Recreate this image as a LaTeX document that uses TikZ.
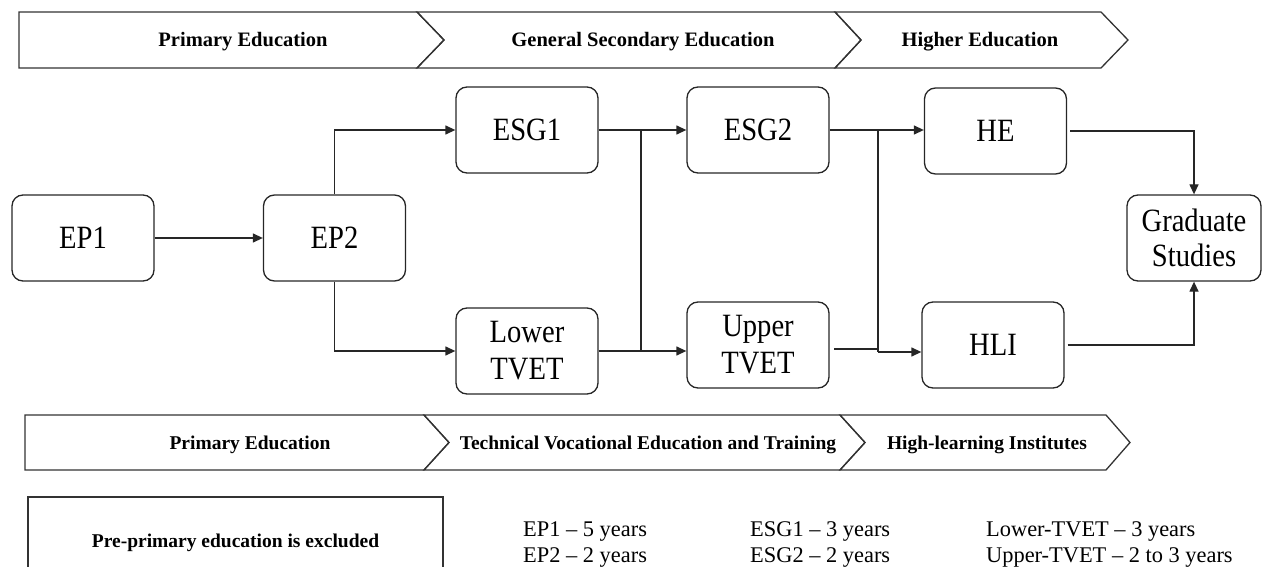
\documentclass[tikz,border=0pt]{standalone}
\usepackage{fontspec}
\setmainfont{Liberation Serif}
\newfontfamily\boxfont{Liberation Serif}[FakeStretch=0.88]
\usetikzlibrary{arrows.meta}
\begin{document}
\begin{tikzpicture}[x=1pt,y=-1pt,
  line/.style={draw=black!85, line width=1.3pt},
  arr/.style={line, -{Triangle[length=10pt,width=9pt]}},
  box/.style={draw=black!85, line width=1.3pt, rounded corners=11pt,
    minimum width=142pt, minimum height=86pt, inner sep=0pt, align=center,
    font=\boxfont\fontsize{32.5}{37}\selectfont},
  band/.style={draw=black!80, line width=1.3pt},
  bandtext/.style={anchor=base, inner sep=0pt, font=\bfseries\fontsize{20.5}{24}\selectfont},
  bandtextb/.style={anchor=base, inner sep=0pt, font=\bfseries\fontsize{19.5}{23}\selectfont},
  yrs/.style={anchor=base west, inner sep=0pt, font=\fontsize{22.4}{26}\selectfont}
]
\useasboundingbox (0,0) rectangle (1262,567);

% top band
\draw[band] (19,12) -- (417,12) -- (444,40) -- (417,68) -- (19,68) -- cycle;
\draw[band] (417,12) -- (835,12) -- (861,40) -- (835,68) -- (417,68) -- (444,40) -- cycle;
\draw[band] (835,12) -- (1101,12) -- (1128,40) -- (1101,68) -- (835,68) -- (861,40) -- cycle;
\node[bandtext] (tA) at (243,47) {Primary Education};
\node[bandtext] (tB) at (643,47) {General Secondary Education};
\node[bandtext] (tC) at (980,47) {Higher Education};

% bottom band
\draw[band] (25,415) -- (424,415) -- (449,442.5) -- (424,470) -- (25,470) -- cycle;
\draw[band] (424,415) -- (840,415) -- (865,442.5) -- (840,470) -- (424,470) -- (449,442.5) -- cycle;
\draw[band] (840,415) -- (1106,415) -- (1130,442.5) -- (1106,470) -- (840,470) -- (865,442.5) -- cycle;
\node[bandtextb] (bA) at (250,449.5) {Primary Education};
\node[bandtextb] (bB) at (648,449.5) {Technical Vocational Education and Training};
\node[bandtextb] (bC) at (987,449.5) {High-learning Institutes};

% nodes
\node[box] (EP1) at (83,238) {EP1};
\node[box] (EP2) at (334.5,238) {EP2};
\node[box] (ESG1) at (527,130) {ESG1};
\node[box] (LT) at (527,351) {Lower\\TVET};
\node[box] (ESG2) at (758,130) {ESG2};
\node[box] (UT) at (758,345) {Upper\\TVET};
\node[box] (HE) at (995.5,131) {HE};
\node[box] (HLI) at (993,345) {HLI};
\node[box, minimum width=134pt, font=\boxfont\fontsize{32.5}{35}\selectfont] (GS) at (1194,238) {Graduate\\Studies};

% connectors
\draw[arr] (EP1) -- (EP2);
\draw[arr] (EP2.north) |- (ESG1.west);
\draw[arr] (EP2.south) |- (LT.west);
\coordinate (j1) at (641,130);
\coordinate (j2) at (641,351);
\draw[arr] (ESG1.east) -- (ESG2.west);
\draw[arr] (LT.east) -- (LT.east -| UT.west);
\draw[line] (j1) -- (j2);
\coordinate (k1) at (878,131);
\coordinate (k2) at (878,352);
\coordinate (ut) at (834,349);
\draw[arr] (ESG2.east) -- (ESG2.east -| HE.west);
\draw[line] (ut) -- (ut -| k1);
\draw[line] (k1) -- (k2);
\draw[arr] (k2) -- (k2 -| HLI.west);
\draw[arr] ([xshift=3pt]HE.east) -| (GS.north);
\draw[arr] ([xshift=3pt]HLI.east) -| (GS.south);

% bottom notes
\draw[band] (28,497) rectangle (443,620);
\node[bandtextb] (pp) at (235.5,547) {Pre-primary education is excluded};
\node[yrs] (y1) at (523,536) {EP1 – 5 years};
\node[yrs] (y2) at (523,562) {EP2 – 2 years};
\node[yrs] (y3) at (750,536) {ESG1 – 3 years};
\node[yrs] (y4) at (750,562) {ESG2 – 2 years};
\node[yrs] (y5) at (986,536) {Lower-TVET – 3 years};
\node[yrs] (y6) at (986,562) {Upper-TVET – 2 to 3 years};
\end{tikzpicture}
\end{document}
